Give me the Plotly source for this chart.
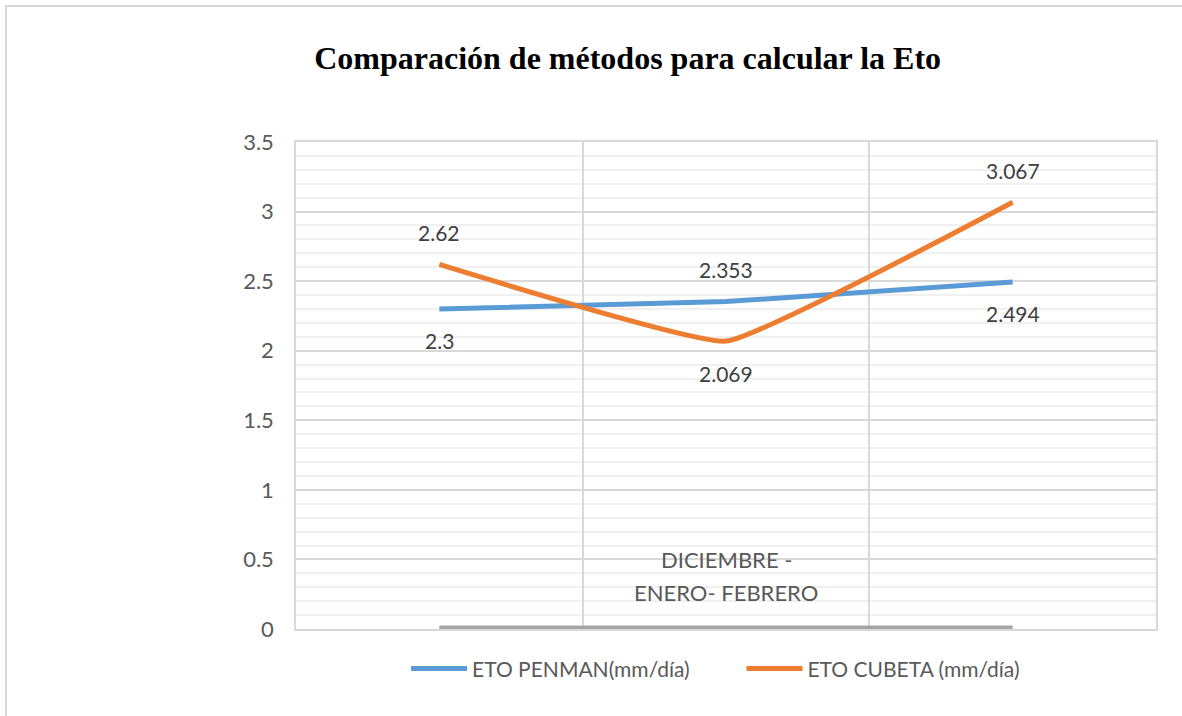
import plotly.graph_objects as go

categories = ["", "DICIEMBRE -\nENERO- FEBRERO", ""]
x_pos = [0, 1, 2]
penman = [2.3, 2.353, 2.494]
cubeta = [2.62, 2.069, 3.067]
baseline = [0, 0, 0]
penman_label_side = [-1, 1, -1]
cubeta_label_side = [1, -1, 1]
y_ticks = [0, 0.5, 1, 1.5, 2, 2.5, 3, 3.5]

BLUE = "#5B9BD5"
ORANGE = "#ED7D31"
GRAY = "#A5A5A5"
TXT = "#595959"
FONT = "Lato"

fig = go.Figure()
fig.add_trace(go.Scatter(x=x_pos, y=penman, mode="lines", name="ETO PENMAN(mm/día)", legend="legend",
                         line=dict(color=BLUE, width=5, shape="spline", smoothing=0.3)))
fig.add_trace(go.Scatter(x=x_pos, y=cubeta, mode="lines", name="ETO CUBETA (mm/día)", legend="legend2",
                         line=dict(color=ORANGE, width=5, shape="spline", smoothing=0.3)))
fig.add_trace(go.Scatter(x=x_pos, y=baseline, mode="lines", showlegend=False, cliponaxis=False,
                         line=dict(color=GRAY, width=7), hoverinfo="skip"))

for xs, vals, sides in [(x_pos, penman, penman_label_side), (x_pos, cubeta, cubeta_label_side)]:
    for xv, v, s in zip(xs, vals, sides):
        fig.add_annotation(x=xv, y=v, text=f"{v:g}", showarrow=False, yshift=32 * s,
                           font=dict(family=FONT, size=21, color="#404040"))

cat_lines = categories[1].split("\n")
for i, line in enumerate(cat_lines):
    fig.add_annotation(x=x_pos[1], y=0.496, yshift=-33 * i, text=line, showarrow=False,
                       font=dict(family=FONT, size=22, color=TXT), align="center")

# outer chart border
fig.add_shape(type="rect", xref="paper", yref="paper", x0=-0.3372, x1=1.06, y0=-0.2, y1=1.2793,
              line=dict(color="#D9D9D9", width=2), fillcolor="rgba(0,0,0,0)", layer="below")

legend_common = dict(orientation="h", xanchor="left", y=-0.082, yanchor="middle",
                     font=dict(family=FONT, size=21, color=TXT), itemwidth=56,
                     bgcolor="rgba(0,0,0,0)")

fig.update_layout(
    width=1182, height=716,
    margin=dict(l=296, r=26, t=142, b=87),
    paper_bgcolor="white", plot_bgcolor="white",
    title=dict(text="<b>Comparación de métodos para calcular la Eto</b>", x=0.531, xanchor="center",
               y=0.919, yanchor="middle",
               font=dict(family="Liberation Serif", size=32, color="black")),
    xaxis=dict(range=[-0.5, 2.5], tickvals=[0.5, 1.5], showticklabels=False, showgrid=True,
               gridcolor="#D9D9D9", gridwidth=1.5, zeroline=False, showline=True, mirror=True,
               linecolor="#D9D9D9", linewidth=1.5, ticks=""),
    yaxis=dict(range=[0, 3.5], tickvals=y_ticks, ticktext=[f"{t:g}" for t in y_ticks],
               showgrid=True, gridcolor="#D9D9D9", gridwidth=1.5, zeroline=False,
               showline=True, mirror=True, linecolor="#D9D9D9", linewidth=1.5, ticks="",
               ticklabelstandoff=16,
               tickfont=dict(family=FONT, size=22, color=TXT),
               minor=dict(dtick=0.1, showgrid=True, gridcolor="#F0F0F0", gridwidth=1.5)),
    legend=dict(x=0.128, **legend_common),
    legend2=dict(x=0.518, **legend_common),
    showlegend=True,
)

fig.write_html("out.html", post_script="document.body.style.margin='0';",
               config={"displayModeBar": False})
